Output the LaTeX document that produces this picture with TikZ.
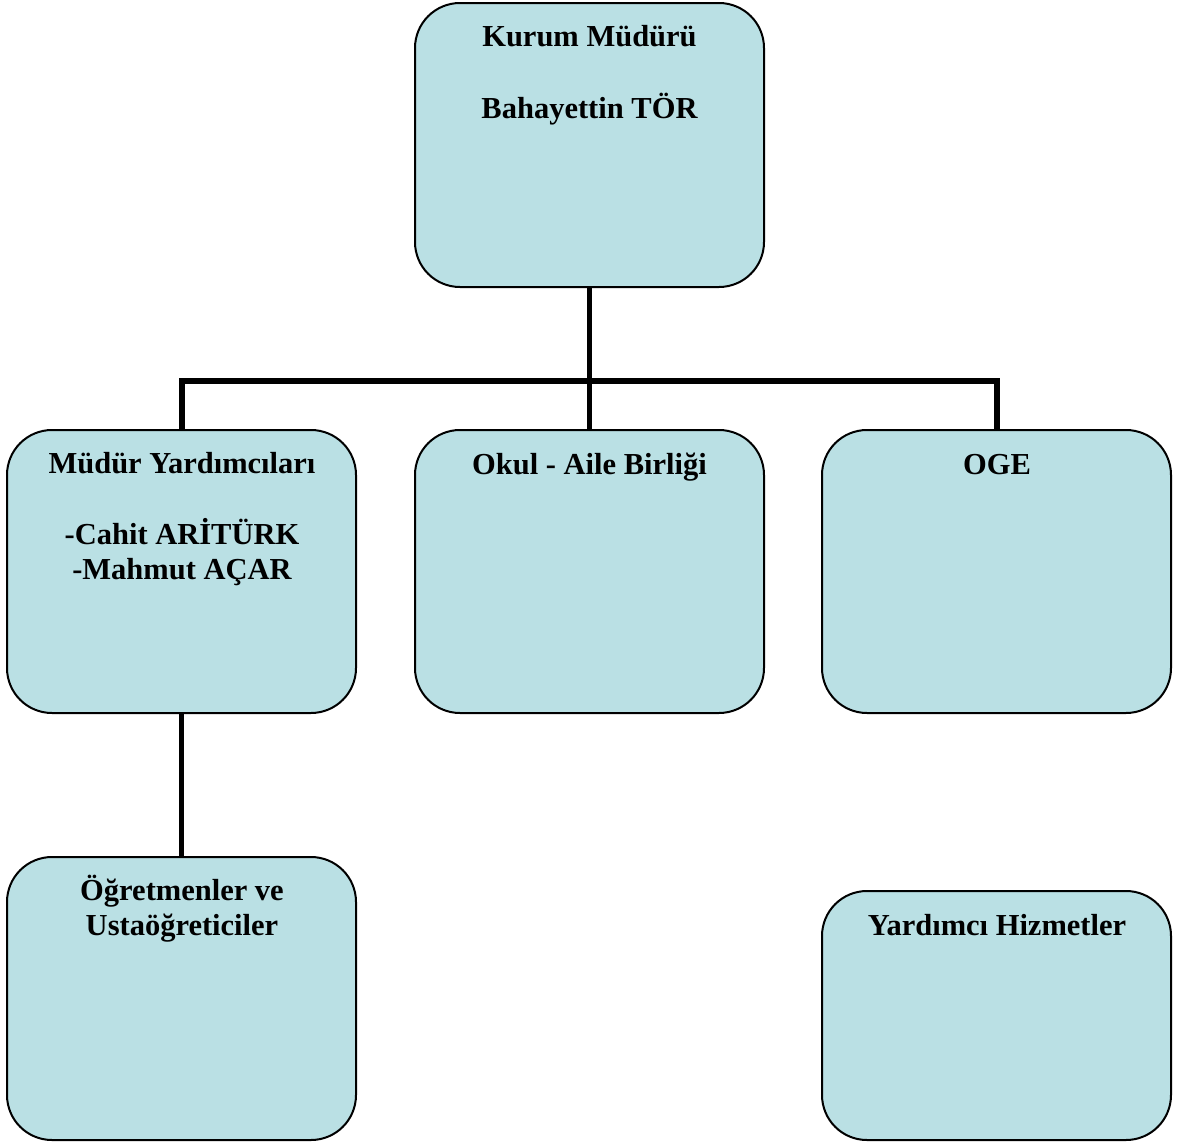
\documentclass[tikz,border=0pt]{standalone}
\usepackage{fontspec}
\setmainfont{Liberation Serif}
\definecolor{boxfill}{RGB}{186,224,228}
\begin{document}
\begin{tikzpicture}[x=1pt,y=-1pt,
  box/.style={draw=black,line width=2pt,fill=boxfill,rounded corners=45pt,
    minimum width=349pt,inner sep=0pt},
  conn/.style={draw=black,line width=5.5pt},
  txt/.style={anchor=base,inner sep=0pt,font=\fontsize{30.5}{36}\selectfont\bfseries}]
\useasboundingbox (0,0) rectangle (1181,1143);
% boxes
\node[box,minimum height=284pt] (top) at (589.5,145) {};
\node[box,minimum height=283pt] (mdr) at (181.5,571.5) {};
\node[box,minimum height=283pt] (oab) at (589.5,571.5) {};
\node[box,minimum height=283pt] (oge) at (996.5,571.5) {};
\node[box,minimum height=283pt] (ogr) at (181.5,998.5) {};
\node[box,minimum height=249pt] (yrd) at (996.5,1015.5) {};
% connectors
\coordinate (j) at (589.5,381);
\coordinate (jl) at (182,381);
\coordinate (jr) at (997,381);
\draw[conn] (top.south) -- (j);
\draw[conn] (oab.north) -- (j);
\draw[conn,line join=miter] (mdr.north -| jl) -- (jl) -- (jr) -- (oge.north -| jr);
\draw[conn] (mdr.south) -- (ogr.north);
% texts
\node[txt] (t1) at (589.5,46) {Kurum Müdürü};
\node[txt] (t2) at (589.5,118) {Bahayettin TÖR};
\node[txt] (t3) at (182,473) {Müdür Yardımcıları};
\node[txt] (t4) at (182,544) {-Cahit ARİTÜRK};
\node[txt] (t5) at (182,579) {-Mahmut AÇAR};
\node[txt] (t6) at (589.5,474) {Okul - Aile Birliği};
\node[txt] (t7) at (997,474) {OGE};
\node[txt] (t8) at (182,900) {Öğretmenler ve};
\node[txt] (t9) at (182,935) {Ustaöğreticiler};
\node[txt] (t10) at (997,935) {Yardımcı Hizmetler};
\end{tikzpicture}
\end{document}
